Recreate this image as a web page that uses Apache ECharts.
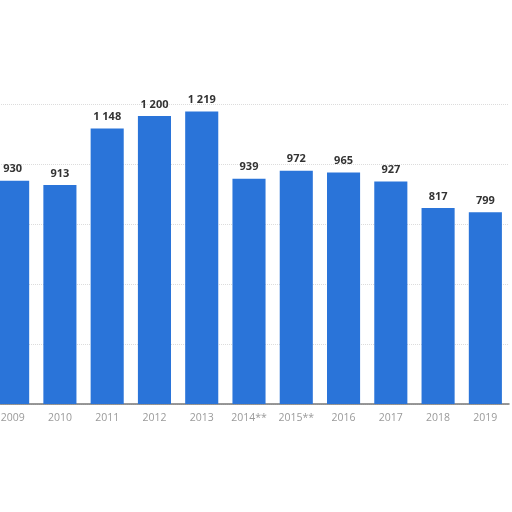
<!DOCTYPE html>
<html><head><meta charset="utf-8">
<script src="https://cdn.jsdelivr.net/npm/echarts@6/dist/echarts.min.js"></script>
<style>html,body{margin:0;padding:0;background:#fff;overflow:hidden}#c{width:523px;height:512px;margin-left:-11px}</style>
</head><body><div id="c"></div>
<script>
const categories = ['2009','2010','2011','2012','2013','2014**','2015**','2016','2017','2018','2019'];
const values = [930, 913, 1148, 1200, 1219, 939, 972, 965, 927, 817, 799];
const yTicks = [0, 250, 500, 750, 1000, 1250];

function fmt(v){ return String(v).replace(/\B(?=(\d{3})+(?!\d))/g, ' '); }

const chart = echarts.init(document.getElementById('c'));
chart.setOption({
  animation: false,
  grid: { left: 0, right: 3, top: 104, bottom: 108, containLabel: false },
  xAxis: {
    type: 'category', data: categories,
    axisLine: { lineStyle: { color: '#777', width: 1.5 } },
    axisTick: { show: false },
    axisLabel: { color: '#9a9a9a', fontSize: 10.5, fontFamily: 'Open Sans', margin: 9 }
  },
  yAxis: {
    type: 'value', min: yTicks[0], max: yTicks[yTicks.length-1], interval: 250,
    axisLabel: { show: false }, axisLine: { show: false }, axisTick: { show: false },
    splitLine: { lineStyle: { color: '#dcdcdc', type: 'dotted' } }
  },
  series: [{
    type: 'bar', data: values, barWidth: '70%',
    itemStyle: { color: '#2a74d9' },
    label: {
      show: true, position: 'top', distance: 6,
      color: '#333', fontWeight: 'bold', fontSize: 11, fontFamily: 'Open Sans',
      formatter: p => fmt(p.value)
    }
  }]
});
</script></body></html>
